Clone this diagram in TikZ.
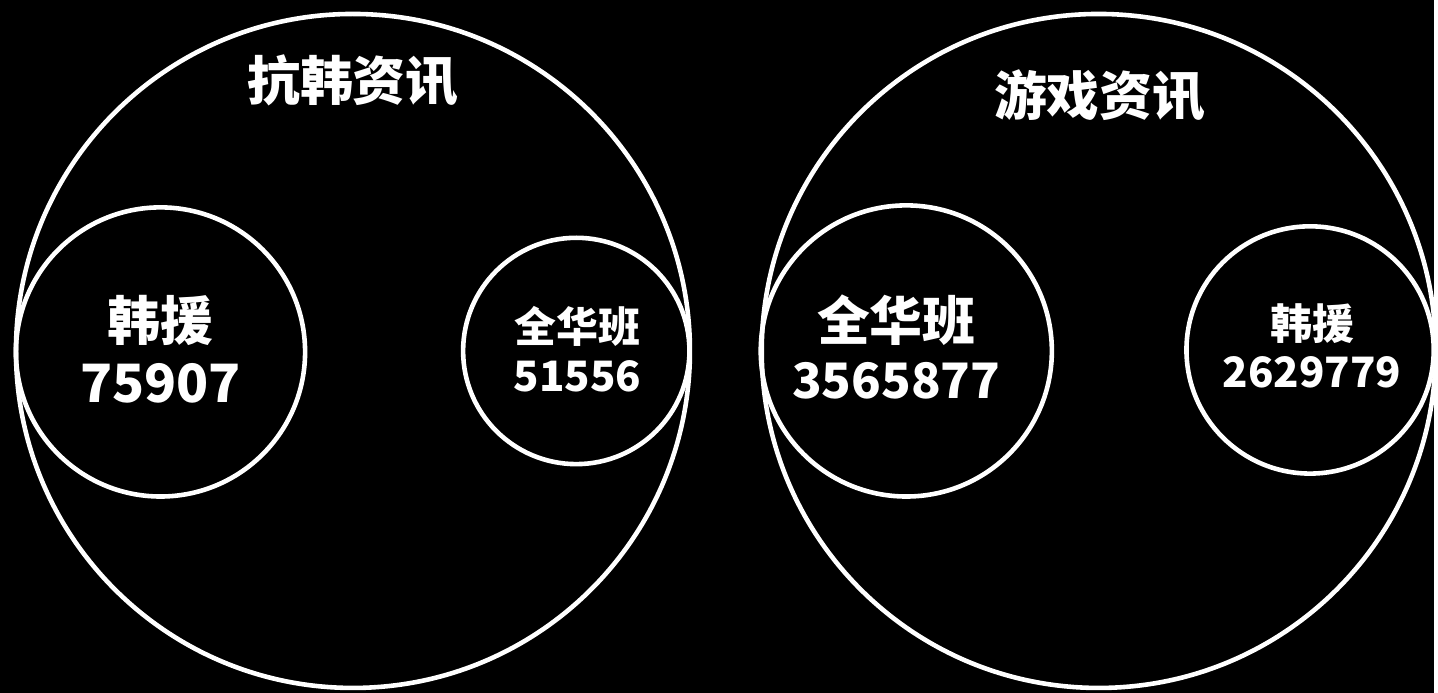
\documentclass[tikz,border=0pt]{standalone}
\usepackage{fontspec}
\newfontfamily\cjk{Noto Sans CJK SC}
\usetikzlibrary{positioning}

\begin{document}
\begin{tikzpicture}[x=1pt,y=-1pt,line cap=round,
  ring/.style={circle,draw=white,line width=4.6pt,inner sep=0pt},
  txt/.style={text=white,align=center,inner sep=0pt}]
% background
\fill[black] (0,0) rectangle (1438,695);
% left: 抗韩资讯
\node[ring,minimum size=676pt] (kanghan) at (354,352) {};
\node[txt,font=\cjk\bfseries\fontsize{53}{60}\selectfont] (kanghan-title) at (354,81) {抗韩资讯};
\node[ring,minimum size=290pt] (kh-hanyuan) at (161,353) {};
\node[txt,font=\cjk\bfseries\fontsize{53}{62}\selectfont] (kh-hanyuan-txt) at (161,350) {韩援\\75907};
\node[ring,minimum size=227pt] (kh-quanhua) at (578,352) {};
\node[txt,font=\cjk\bfseries\fontsize{42}{49}\selectfont] (kh-quanhua-txt) at (579,350) {全华班\\51556};
% right: 游戏资讯
\node[ring,minimum size=676pt] (youxi) at (1102,352) {};
\node[txt,font=\cjk\bfseries\fontsize{53}{60}\selectfont] (youxi-title) at (1103,96) {游戏资讯};
\node[ring,minimum size=292pt] (yx-quanhua) at (909,352) {};
\node[txt,font=\cjk\bfseries\fontsize{53}{58}\selectfont] (yx-quanhua-txt) at (899,348) {全华班\\{\fontsize{49}{58}\selectfont 3565877}};
\node[ring,minimum size=248pt] (yx-hanyuan) at (1314,351) {};
\node[txt,font=\cjk\bfseries\fontsize{42}{48}\selectfont] (yx-hanyuan-txt) at (1316,347) {韩援\\2629779};
\end{tikzpicture}
\end{document}
